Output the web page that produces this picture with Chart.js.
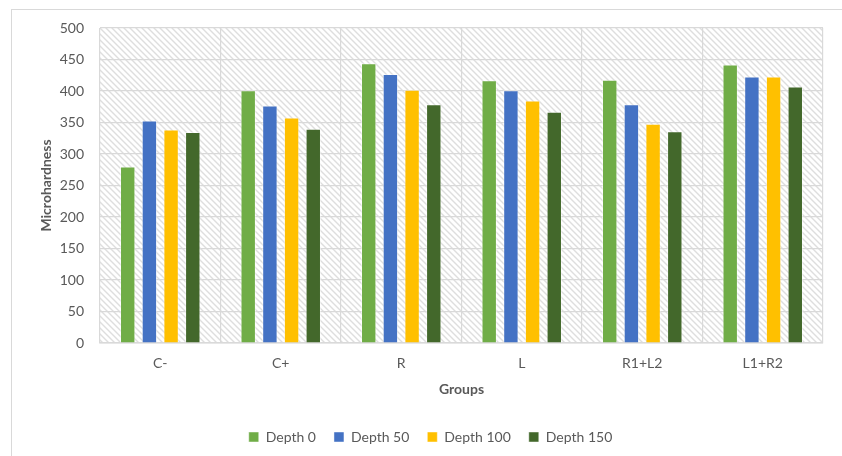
<!DOCTYPE html>
<html>
<head>
<meta charset="utf-8">
<script src="https://cdn.jsdelivr.net/npm/chart.js@4"></script>
<style>
  html, body { margin: 0; padding: 0; background: #fff; }
  .wrap { position: relative; width: 842px; height: 456px; }
  .frame { position: absolute; left: 11px; top: 9px; width: 840px; height: 460px;
           border-top: 1px solid #d9d9d9; border-left: 1px solid #d9d9d9; }
  canvas { position: absolute; left: 0; top: 0; }
</style>
</head>
<body>
<div class="wrap">
  <div class="frame"></div>
  <canvas id="chart" width="842" height="456"></canvas>
</div>
<script>
const groups = ["C-", "C+", "R", "L", "R1+L2", "L1+R2"];
const depth0 = [280, 401, 444, 417, 418, 442];
const depth50 = [353, 377, 427, 401, 379, 423];
const depth100 = [339, 358, 402, 385, 348, 423];
const depth150 = [335, 340, 379, 367, 336, 407];
const yTicks = [0, 50, 100, 150, 200, 250, 300, 350, 400, 450, 500];

const fontFamily = "Lato, 'Liberation Sans', sans-serif";
const textColor = "#595959";
const gridColor = "#d9d9d9";

// diagonal hatch like the excel plot area fill
function makeHatch() {
  const c = document.createElement("canvas");
  c.width = 6;
  c.height = 6;
  const g = c.getContext("2d");
  g.strokeStyle = "#dedede";
  g.lineWidth = 1.4;
  g.beginPath();
  g.moveTo(-1, -1); g.lineTo(7, 7);
  g.moveTo(-1, 5); g.lineTo(1, 7);
  g.moveTo(5, -1); g.lineTo(7, 1);
  g.stroke();
  return g.createPattern(c, "repeat");
}

const hatchPlugin = {
  id: "hatch",
  beforeDraw(chart) {
    const { ctx, chartArea } = chart;
    ctx.save();
    ctx.fillStyle = makeHatch();
    ctx.fillRect(chartArea.left, chartArea.top, chartArea.right - chartArea.left, chartArea.bottom - chartArea.top);
    ctx.restore();
  }
};

function dataset(label, values, color) {
  return {
    label: label,
    data: values,
    backgroundColor: color,
    borderColor: "rgba(255,255,255,0.45)",
    borderWidth: 1,
    categoryPercentage: 0.72,
    barPercentage: 0.71,
  };
}

new Chart(document.getElementById("chart"), {
  type: "bar",
  data: {
    labels: groups,
    datasets: [
      dataset("Depth 0", depth0, "#70AD47"),
      dataset("Depth 50", depth50, "#4472C4"),
      dataset("Depth 100", depth100, "#FFC000"),
      dataset("Depth 150", depth150, "#43682B"),
    ],
  },
  options: {
    responsive: false,
    animation: false,
    layout: { padding: { left: 38, top: 28, right: 19, bottom: 2 } },
    plugins: {
      legend: {
        position: "bottom",
        labels: {
          boxWidth: 10,
          boxHeight: 10,
          padding: 18,
          color: textColor,
          font: { family: fontFamily, size: 14 },
        },
      },
      tooltip: { enabled: false },
    },
    scales: {
      x: {
        grid: { color: gridColor, lineWidth: 1.2, drawTicks: false, offset: true },
        border: { color: gridColor, width: 1.5 },
        ticks: { color: textColor, padding: 12, font: { family: fontFamily, size: 14 } },
        title: {
          display: true,
          text: "Groups",
          color: textColor,
          padding: { top: 0, bottom: 14 },
          font: { family: fontFamily, size: 14, weight: "bold" },
        },
        afterFit(scale) { scale.height = 69; },
      },
      y: {
        min: 0,
        max: 500,
        afterBuildTicks(scale) { scale.ticks = yTicks.map(v => ({ value: v })); },
        grid: { color: gridColor, lineWidth: 1.2, drawTicks: false },
        border: { display: false },
        ticks: { color: textColor, padding: 16, font: { family: fontFamily, size: 14 } },
        title: {
          display: true,
          text: "Microhardness",
          color: textColor,
          padding: { top: 0, bottom: 0 },
          font: { family: fontFamily, size: 14, weight: "bold" },
        },
        afterFit(scale) { scale.width = 62; },
      },
    },
  },
  plugins: [hatchPlugin],
});
</script>
</body>
</html>
